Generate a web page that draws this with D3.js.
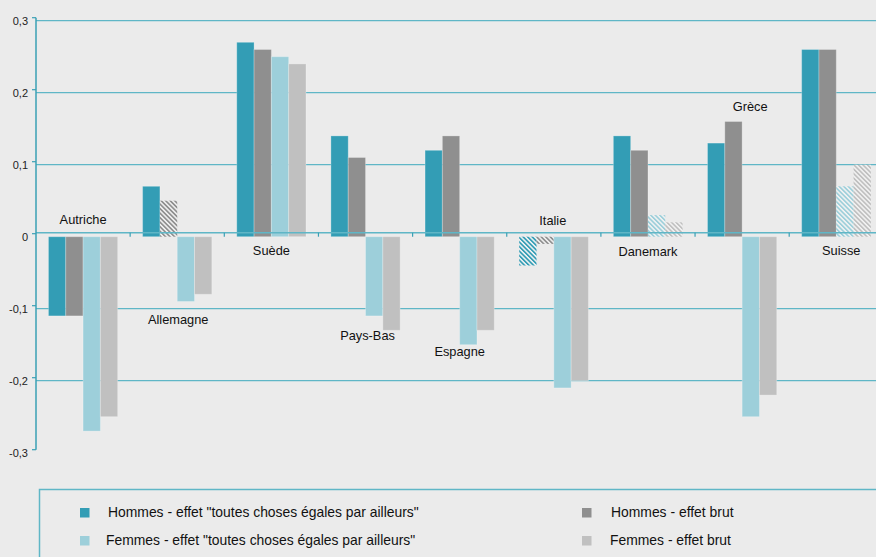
<!DOCTYPE html>
<html><head><meta charset="utf-8">
<script src="https://cdn.jsdelivr.net/npm/d3@7"></script>
<style>
html,body{margin:0;padding:0;background:#ebebeb;}
svg{display:block;font-family:"Liberation Sans",Arial,sans-serif;}
</style></head>
<body><svg id="c" width="876" height="557"></svg>
<script>
// ---- data ----
const countries = ["Autriche","Allemagne","Suède","Pays-Bas","Espagne","Italie","Danemark","Grèce","Suisse"];
const seriesNames = [
  'Hommes - effet "toutes choses égales par ailleurs"',
  'Hommes - effet brut',
  'Femmes - effet "toutes choses égales par ailleurs"',
  'Femmes - effet brut'
];
const hommesToutes = [-0.11, 0.07, 0.27, 0.14, 0.12, -0.04, 0.14, 0.13, 0.26];
const hommesBrut   = [-0.11, 0.05, 0.26, 0.11, 0.14, -0.01, 0.12, 0.16, 0.26];
const femmesToutes = [-0.27, -0.09, 0.25, -0.11, -0.15, -0.21, 0.03, -0.25, 0.07];
const femmesBrut   = [-0.25, -0.08, 0.24, -0.13, -0.13, -0.20, 0.02, -0.22, 0.10];
// non significant (hatched) flags
const hommesToutesNS = [0,0,0,0,0,1,0,0,0];
const hommesBrutNS   = [0,1,0,0,0,1,0,0,0];
const femmesToutesNS = [0,0,0,0,0,0,1,0,1];
const femmesBrutNS   = [0,0,0,0,0,0,1,0,1];
const yTicks = [-0.3,-0.2,-0.1,0,0.1,0.2,0.3];
const yTickLabels = ["-0,3","-0,2","-0,1","0","0,1","0,2","0,3"];

// ---- layout / style ----
const colors = ["#339db5","#8f8f8f","#9dcfda","#c0c0c0"];
const series = [hommesToutes, hommesBrut, femmesToutes, femmesBrut];
const seriesNS = [hommesToutesNS, hommesBrutNS, femmesToutesNS, femmesBrutNS];
// country label anchor (value units) and dx
const labelAt = [0.018,-0.121,-0.025,-0.143,-0.166,0.016,-0.027,0.174,-0.026];
const labelDx = [0,1,0,2,0,-1,0,8,5];

const svg = d3.select("#c");
const W = 876;
const x0 = d3.scaleBand().domain(countries).range([36, 36 + 9*94.15]).padding(0);
const x1 = d3.scaleBand().domain(d3.range(4)).range([0, x0.bandwidth()]).paddingInner(0).paddingOuter(0.72);
const y = d3.scaleLinear().domain([-0.3, 0.3]).range([452.7, 20.7]);

// patterns
const defs = svg.append("defs");
colors.forEach((c,i)=>{
  const p = defs.append("pattern").attr("id","h"+i).attr("patternUnits","userSpaceOnUse")
    .attr("width",3.2).attr("height",3.2).attr("patternTransform","rotate(-45)");
  p.append("rect").attr("width",3.2).attr("height",3.2).attr("fill","#f3f3f3");
  p.append("rect").attr("width",1.7).attr("height",3.2).attr("fill",c);
});

// gridlines (none at 0 and at the bottom -0.3)
svg.append("g").selectAll("line").data(yTicks.filter(t=>t!==0 && t!==-0.3)).join("line")
  .attr("x1",36).attr("x2",W).attr("y1",d=>y(d)).attr("y2",d=>y(d))
  .attr("stroke","#5fb6c6").attr("stroke-width",1.3);

// bars
const data = [];
countries.forEach((c,ci)=>series.forEach((s,si)=>data.push({c,si,v:s[ci],ns:seriesNS[si][ci]})));
svg.append("g").selectAll("rect").data(data).join("rect")
  .attr("x",d=>x0(d.c)+x1(d.si))
  .attr("width",x1.bandwidth())
  .attr("y",d=>Math.min(y(d.v),y(0)))
  .attr("height",d=>Math.abs(y(d.v)-y(0)))
  .attr("fill",d=>d.ns?`url(#h${d.si})`:colors[d.si])
  .attr("stroke",d=>d.ns?"none":"rgba(255,255,255,0.25)").attr("stroke-width",1);

// zero axis (drawn slightly above as in reference)
const zy = y(0) - 4;
svg.append("line").attr("x1",36).attr("x2",W).attr("y1",zy).attr("y2",zy)
  .attr("stroke","#5fb6c6").attr("stroke-width",1.5);
svg.append("g").selectAll("line").data(countries.slice(1)).join("line")
  .attr("x1",d=>x0(d)).attr("x2",d=>x0(d)).attr("y1",zy).attr("y2",zy+4)
  .attr("stroke","#3aa0b5").attr("stroke-width",1.2);

// y axis
const yAx = svg.append("g");
yAx.append("line").attr("x1",36).attr("x2",36).attr("y1",y(0.3)-3).attr("y2",y(-0.3)-3)
  .attr("stroke","#3aa0b5").attr("stroke-width",1.5);
yAx.selectAll("line.t").data(yTicks).join("line").attr("class","t")
  .attr("x1",32).attr("x2",36).attr("y1",d=>y(d)-3).attr("y2",d=>y(d)-3)
  .attr("stroke","#3aa0b5").attr("stroke-width",1.2);
yAx.selectAll("text").data(yTicks).join("text")
  .attr("x",28).attr("y",d=>y(d)).attr("dy","0.35em").attr("text-anchor","end")
  .attr("font-size",11).attr("fill","#222").text((d,i)=>yTickLabels[i]);

// country labels
svg.append("g").selectAll("text").data(countries).join("text")
  .attr("x",(d,i)=>x0(d)+x0.bandwidth()/2+labelDx[i]).attr("y",(d,i)=>y(labelAt[i]))
  .attr("text-anchor","middle").attr("font-size",12.8).attr("fill","#111").text(d=>d);

// legend
const lg = svg.append("g");
lg.append("path").attr("d",`M39.5,560 L39.5,489.5 L${W},489.5`)
  .attr("fill","none").attr("stroke","#5fb6c6").attr("stroke-width",1.5);
const legPos = [[80,508],[582,508],[80,536],[582,536]];
const legTx = [108,611,106,610];
lg.selectAll("rect").data(seriesNames).join("rect")
  .attr("x",(d,i)=>legPos[i][0]).attr("y",(d,i)=>legPos[i][1]).attr("width",9.5).attr("height",9.5)
  .attr("fill",(d,i)=>colors[i]);
lg.selectAll("text").data(seriesNames).join("text")
  .attr("x",(d,i)=>legTx[i]).attr("y",(d,i)=>legPos[i][1]+9.3)
  .attr("font-size",13.9).attr("fill","#111").text(d=>d);
</script></body></html>
